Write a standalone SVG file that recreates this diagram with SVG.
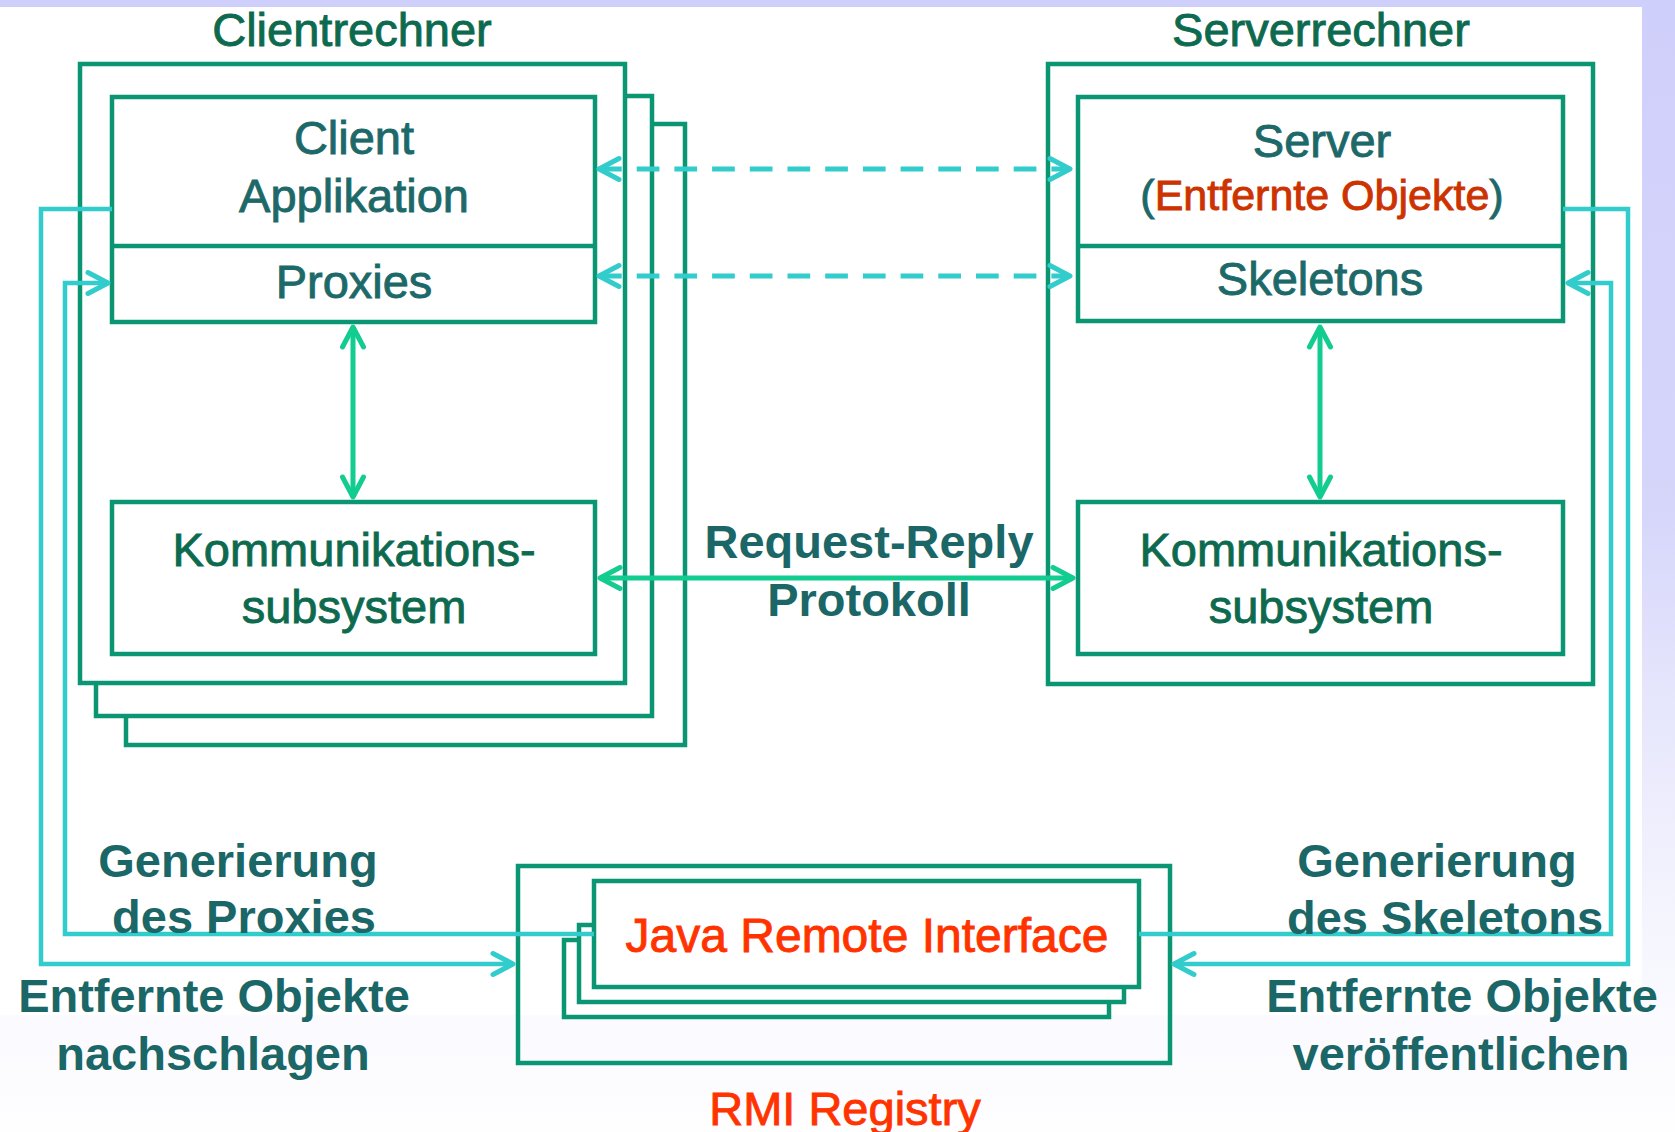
<svg xmlns="http://www.w3.org/2000/svg" width="1675" height="1132" viewBox="0 0 1675 1132">
<defs>
<linearGradient id="bg" x1="0" y1="0" x2="0" y2="1">
<stop offset="0" stop-color="#cfcffb"/>
<stop offset="0.45" stop-color="#d6d6fb"/>
<stop offset="0.62" stop-color="#e6e6fc"/>
<stop offset="0.8" stop-color="#f4f4fe"/>
<stop offset="0.9" stop-color="#fafaff"/>
<stop offset="1" stop-color="#fefeff"/>
</linearGradient>
<marker id="ac" viewBox="-26 -14 30 28" refX="0" refY="0" markerWidth="30" markerHeight="28" markerUnits="userSpaceOnUse" orient="auto-start-reverse">
<path d="M-20,-10.5 L0,0 L-20,10.5" fill="none" stroke="#33cccc" stroke-width="5" stroke-linecap="round" stroke-linejoin="round"/>
</marker>
<marker id="ag" viewBox="-26 -14 30 28" refX="0" refY="0" markerWidth="30" markerHeight="28" markerUnits="userSpaceOnUse" orient="auto-start-reverse">
<path d="M-20,-10.5 L0,0 L-20,10.5" fill="none" stroke="#12cc90" stroke-width="5" stroke-linecap="round" stroke-linejoin="round"/>
</marker>
</defs>
<style>
.box{fill:#ffffff;stroke:#0a9672;stroke-width:4.5}
.boxn{fill:none;stroke:#0a9672;stroke-width:4.5}
.ln{fill:none;stroke:#0a9672;stroke-width:4.5}
.cy{fill:none;stroke:#33cccc;stroke-width:4.5}
.dash{fill:none;stroke:#33cccc;stroke-width:5;stroke-dasharray:22.7 15}
.gr{fill:none;stroke:#12cc90;stroke-width:5}
text{font-family:"Liberation Sans",Arial,sans-serif;text-anchor:middle}
.t{font-size:47px;fill:#1d6969;stroke:#1d6969;stroke-width:0.9}
.h{font-size:47px;fill:#0d6a4f;stroke:#0d6a4f;stroke-width:0.9}
.b{font-size:47px;font-weight:bold;fill:#1b6666}
.red{fill:#ff3300;stroke:#ff3300}
.dred{fill:#cc3300;stroke:#cc3300}
</style>
<rect x="0" y="0" width="1675" height="1132" fill="url(#bg)"/>
<rect x="0" y="7" width="1642" height="1008" fill="#ffffff"/>

<g id="clientrechner">
<rect class="box" x="126" y="124" width="559" height="621"/>
<rect class="box" x="96" y="96" width="556" height="620"/>
<rect class="box" x="80" y="64" width="545" height="619"/>
<text class="h" x="352" y="46">Clientrechner</text>
</g>
<g id="client-applikation">
<rect class="box" x="112" y="97" width="483" height="225"/>
<line class="ln" x1="112" y1="246" x2="595" y2="246"/>
<text class="t" x="354" y="154">Client</text>
<text class="t" x="354" y="212">Applikation</text>
</g>
<g id="proxies">
<text class="t" x="354" y="298">Proxies</text>
</g>
<g id="client-komm">
<rect class="box" x="112" y="502" width="483" height="152"/>
<text class="h" x="354" y="566">Kommunikations-</text>
<text class="h" x="354" y="623">subsystem</text>
</g>

<g id="serverrechner">
<rect class="box" x="1048" y="64" width="545" height="620"/>
<text class="h" x="1321" y="46">Serverrechner</text>
</g>
<g id="server">
<rect class="box" x="1078" y="97" width="485" height="224"/>
<line class="ln" x1="1078" y1="246" x2="1563" y2="246"/>
<text class="t" x="1322" y="157">Server</text>
<text class="t" x="1322" y="210" style="font-size:43px">(<tspan class="dred">Entfernte Objekte</tspan>)</text>
</g>
<g id="skeletons">
<text class="t" x="1320" y="295">Skeletons</text>
</g>
<g id="server-komm">
<rect class="box" x="1078" y="502" width="485" height="152"/>
<text class="h" x="1321" y="566">Kommunikations-</text>
<text class="h" x="1321" y="623">subsystem</text>
</g>

<g id="rmi-registry">
<rect class="boxn" x="518" y="866" width="652" height="197"/>
<text class="t red" x="845" y="1125">RMI Registry</text>
</g>
<g id="java-remote-interface">
<rect class="box" x="564" y="940" width="545" height="77"/>
<rect class="box" x="579" y="925" width="545" height="77"/>
<rect class="box" x="594" y="881" width="545" height="106"/>
<text class="t red" x="867" y="952" style="font-size:48px">Java Remote Interface</text>
</g>

<g id="connectors">
<line class="dash" x1="599" y1="169" x2="1070" y2="169" marker-start="url(#ac)" marker-end="url(#ac)"/>
<line class="dash" x1="599" y1="276" x2="1070" y2="276" marker-start="url(#ac)" marker-end="url(#ac)"/>
<line class="gr" x1="353" y1="327" x2="353" y2="497" marker-start="url(#ag)" marker-end="url(#ag)"/>
<line class="gr" x1="1320" y1="327" x2="1320" y2="497" marker-start="url(#ag)" marker-end="url(#ag)"/>
<line class="gr" x1="600" y1="578" x2="1073" y2="578" marker-start="url(#ag)" marker-end="url(#ag)"/>
<polyline class="cy" points="112,209 41,209 41,964 513,964" marker-end="url(#ac)"/>
<polyline class="cy" points="594,934 65,934 65,283 108,283" marker-end="url(#ac)"/>
<polyline class="cy" points="1563,209 1628,209 1628,964 1174,964" marker-end="url(#ac)"/>
<polyline class="cy" points="1139,934 1611,934 1611,283 1568,283" marker-end="url(#ac)"/>
</g>

<g id="labels">
<text class="b" x="869" y="558">Request-Reply</text>
<text class="b" x="869" y="616">Protokoll</text>
<text class="b" x="238" y="877">Generierung</text>
<text class="b" x="244" y="933">des Proxies</text>
<text class="b" x="214" y="1012">Entfernte Objekte</text>
<text class="b" x="213" y="1070">nachschlagen</text>
<text class="b" x="1437" y="877">Generierung</text>
<text class="b" x="1445" y="934">des Skeletons</text>
<text class="b" x="1462" y="1012">Entfernte Objekte</text>
<text class="b" x="1461" y="1070">veröffentlichen</text>
</g>
</svg>
